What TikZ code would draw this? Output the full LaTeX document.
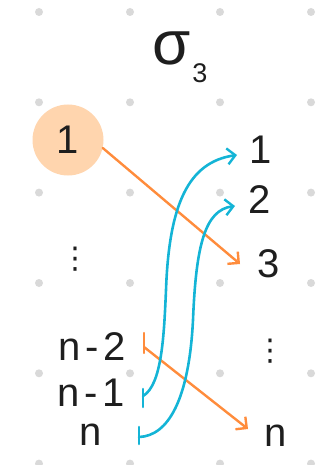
\documentclass[tikz,border=0pt]{standalone}
\usepackage{fontspec}
\setmainfont{Liberation Sans}
\newfontfamily\dejavu{DejaVu Sans}
\usetikzlibrary{arrows.meta}
\definecolor{dotgray}{HTML}{D9D9D9}
\definecolor{ora}{HTML}{FF8C3C}
\definecolor{cya}{HTML}{14B4D6}
\definecolor{peach}{HTML}{FFD5AE}
\definecolor{ink}{HTML}{1E1E1E}
\tikzset{
  lbl/.style={text=ink, inner sep=0pt, text height=29pt, text depth=0pt, font=\fontsize{40}{40}\selectfont},
  vdotslbl/.style={text=ink, inner sep=0pt, font=\dejavu\fontsize{30}{30}\selectfont},
  griddot/.style={fill=dotgray, draw=none},
  oline/.style={draw=ora, line width=2.4pt, line cap=round, line join=round},
  cline/.style={draw=cya, line width=2.6pt, line cap=round, line join=round},
  tip/.style={-{Straight Barb[length=8pt,width=16pt,line width=2.4pt]}}
}
\begin{document}
\begin{tikzpicture}[x=1pt,y=-1pt]
\useasboundingbox (0,0) rectangle (321,465);
% grid dots
\foreach \gx in {39,130,220,311}
  \foreach \gy in {12,102.3,192.6,283,373.3,463.6}
    \fill[griddot] (\gx,\gy) circle (4);
% title
\node[text=ink, inner sep=0pt, font=\fontsize{62}{62}\selectfont] (sig) at (172,48) {σ};
\node[text=ink, inner sep=0pt, font=\fontsize{27}{27}\selectfont] (sub) at (200,73) {3};
% highlighted source
\node[circle, fill=peach, minimum size=71pt, inner sep=0pt, text=ink, font=\fontsize{40}{40}\selectfont] (c1) at (68,140) {\raisebox{-5pt}{1}};
% left column
\node[vdotslbl] (ldots) at (75,259) {⋮};
\node[lbl] (l2) at (92,346) {n\kern5pt-\kern5pt2};
\node[lbl] (l1) at (91,392) {n\kern5pt-\kern5pt1};
\node[lbl] (ln) at (91,431) {n};
% right column
\node[lbl] (r1) at (261,149) {1};
\node[lbl] (r2) at (260,199) {2};
\node[lbl] (r3) at (269,263) {3};
\node[vdotslbl] (rdots) at (270,351) {⋮};
\node[lbl] (rn) at (276,432) {n};
% connector end points
\coordinate (t3) at (240,264);
\coordinate (s2) at (144,347);
\coordinate (tn) at (248,429);
\coordinate (s1) at (143,396);
\coordinate (t1) at (237,155);
\coordinate (sn) at (139,437);
\coordinate (t2) at (235,206);
% orange connectors
\draw[oline, tip] (c1.-13) -- (t3);
\draw[oline] ([yshift=-6]s2) -- ([yshift=14]s2);
\draw[oline, tip] (s2) -- (tn);
% cyan connectors
\draw[cline] ([yshift=-11]s1) -- ([yshift=7]s1);
\draw[cline, tip] (s1) .. controls (162,385) and (164,335) .. (166,290)
  .. controls (169,205) and (188,162) .. (t1);
\draw[cline] ([yshift=-7]sn) -- ([yshift=10]sn);
\draw[cline, tip] (sn) .. controls (168,436) and (189,400) .. (193,320)
  .. controls (196,245) and (205,210) .. (t2);
\end{tikzpicture}
\end{document}
